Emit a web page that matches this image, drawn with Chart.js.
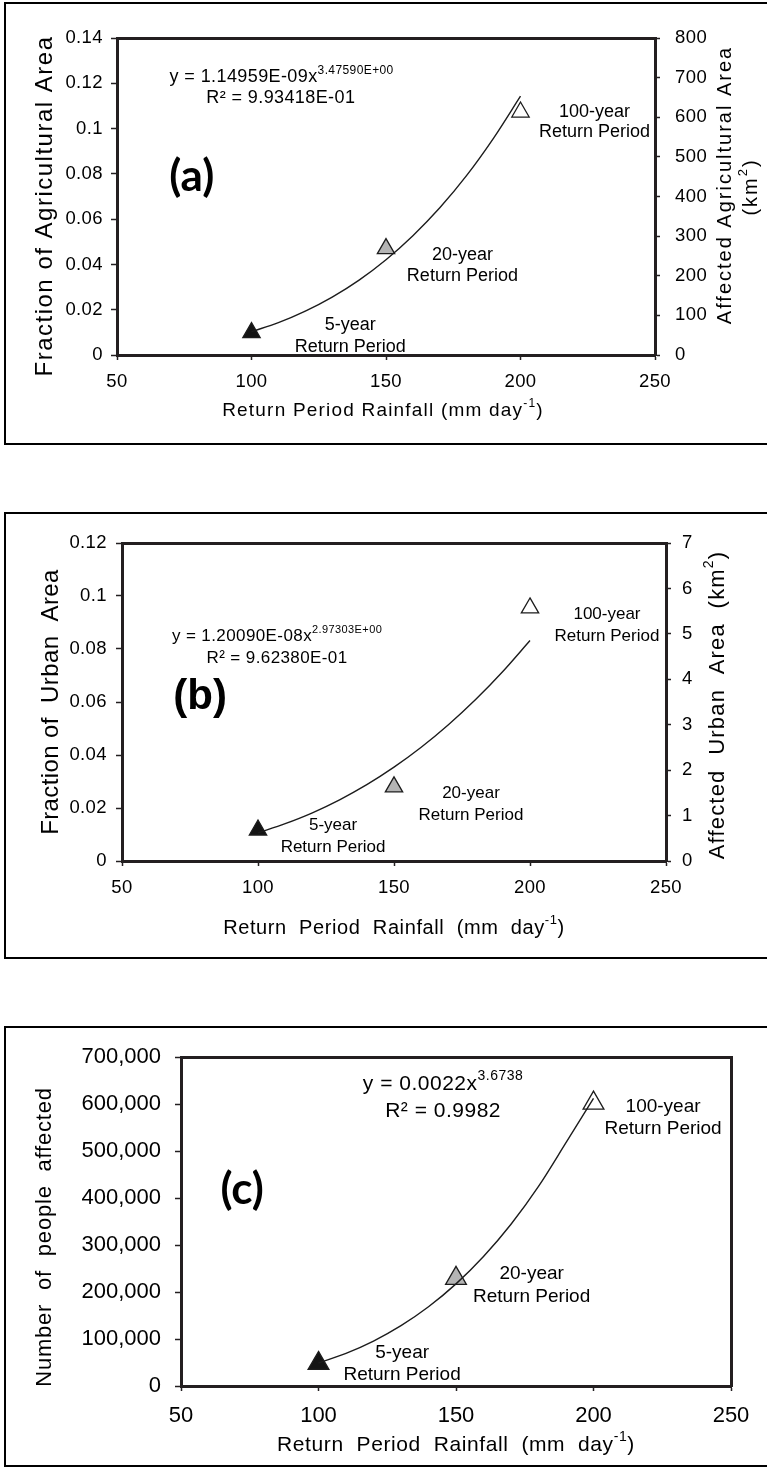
<!DOCTYPE html>
<html>
<head>
<meta charset="utf-8">
<script src="https://cdn.jsdelivr.net/npm/chart.js@4.4.1/dist/chart.umd.min.js"></script>
<style>
    html, body { margin: 0; padding: 0; background: #fff; }
    body { width: 767px; height: 1468px; position: relative; overflow: hidden; }
    .panel-box { position: absolute; left: 4px; width: 820px; border: 2px solid #000; box-sizing: border-box; }
    canvas { position: absolute; left: 0; }
</style>
</head>
<body>
<div class="panel-box" style="top:2px;height:443px"></div>
<div class="panel-box" style="top:512px;height:447px"></div>
<div class="panel-box" style="top:1026px;height:441px"></div>
<canvas id="chartA" width="767" height="446" style="top:0px;width:767px;height:446px"></canvas>
<canvas id="chartB" width="767" height="450" style="top:510px;width:767px;height:450px"></canvas>
<canvas id="chartC" width="767" height="444" style="top:1024px;width:767px;height:444px"></canvas>
<script>
// return period rainfall (mm/day) of the 5, 20 and 100-year events
const rainfall = [100, 150, 200];
const returnPeriods = ["5-year", "20-year", "100-year"];
const agriculturalFraction = [0.0099, 0.047, 0.1073];
const urbanFraction = [0.0117, 0.028, 0.0955];
const peopleAffected = [48000, 229000, 602000];

// fitted power curves as drawn
const trendRainfall = [100, 110, 120, 130, 140, 150, 160, 170, 180, 190, 200];
const agriculturalTrend = [0.0103, 0.0143, 0.0194, 0.0256, 0.0331, 0.0421, 0.0527, 0.065, 0.0793, 0.0958, 0.1143];
const urbanTrend = [0.0106, 0.0141, 0.0182, 0.0231, 0.0288, 0.0354, 0.0429, 0.0514, 0.0609, 0.0715, 0.0832];
const peopleTrend = [49000, 69500, 95700, 128400, 168600, 217300, 275500, 344100, 424700, 517800, 612000];

const rainfallTicks = [50, 100, 150, 200, 250];
const rainfallTickLabels = ["50", "100", "150", "200", "250"];
const agriculturalTicks = [0, 0.02, 0.04, 0.06, 0.08, 0.1, 0.12, 0.14];
const agriculturalTickLabels = ["0", "0.02", "0.04", "0.06", "0.08", "0.1", "0.12", "0.14"];
const agriculturalAreaTicks = [0, 100, 200, 300, 400, 500, 600, 700, 800];
const agriculturalAreaTickLabels = ["0", "100", "200", "300", "400", "500", "600", "700", "800"];
const urbanTicks = [0, 0.02, 0.04, 0.06, 0.08, 0.1, 0.12];
const urbanTickLabels = ["0", "0.02", "0.04", "0.06", "0.08", "0.1", "0.12"];
const urbanAreaTicks = [0, 1, 2, 3, 4, 5, 6, 7];
const urbanAreaTickLabels = ["0", "1", "2", "3", "4", "5", "6", "7"];
const peopleTicks = [0, 100000, 200000, 300000, 400000, 500000, 600000, 700000];
const peopleTickLabels = ["0", "100,000", "200,000", "300,000", "400,000", "500,000", "600,000", "700,000"];

const axisColour = "#231f20";
const markerFills = ["#141414", "#b4b4b4", "#ffffff"];
const sansFont = "'Liberation Sans', Arial, Helvetica, sans-serif";
const letterFont = "Lato, 'Open Sans', sans-serif";

const rainfallTitle = [{ t: "Return Period Rainfall (mm day" }, { t: "-1", sup: true }, { t: ")" }];
const rainfallTitleWide = [{ t: "Return  Period  Rainfall  (mm  day" }, { t: "-1", sup: true }, { t: ")" }];

function periodNotes(positions, size) {
    const notes = [];
    positions.forEach((pos, i) => {
        notes.push({ parts: [{ t: returnPeriods[i] }], x: pos[0], y: pos[1], size });
        notes.push({ parts: [{ t: "Return Period" }], x: pos[0], y: pos[2], size });
    });
    return notes;
}

const panels = [
    {
        canvasId: "chartA",
        values: agriculturalFraction,
        trend: agriculturalTrend,
        markerRadius: 10,
        areaTop: 38,
        xAxis: { size: 91, tick: [5, 11] },
        yAxis: { range: [0, 0.14], ticks: agriculturalTicks, labels: agriculturalTickLabels, size: 117, tick: [6, 8] },
        y2Axis: { range: [0, 800], ticks: agriculturalAreaTicks, labels: agriculturalAreaTickLabels, size: 112, tick: [5, 15] },
        tickSize: 18.5,
        tickSpacing: 0.4,
        titles: [
            { parts: [{ t: "Fraction of Agricultural Area" }], x: 45, y: 206, size: 24, spacing: 1.5, rotate: true },
            { parts: rainfallTitle, x: 383, y: 411, size: 19, spacing: 1.2 },
            { parts: [{ t: "Affected Agricultural Area" }], x: 725, y: 185, size: 20, spacing: 2, rotate: true },
            { parts: [{ t: "(km" }, { t: "2", sup: true }, { t: ")" }], x: 751, y: 187, size: 20, spacing: 2, rotate: true }
        ],
        notes: [
            { parts: [{ t: "y = 1.14959E-09x" }, { t: "3.47590E+00", sup: true }], x: 111.2, y: 0.1226, size: 18, spacing: 0.4 },
            { parts: [{ t: "R\u00b2 = 9.93418E-01" }], x: 110.9, y: 0.1135, size: 18, spacing: 0.4 },
            { parts: [{ t: "(a)" }], x: 77.8, y: 0.0786, size: 44, bold: true, family: letterFont }
        ].concat(periodNotes([[136.7, 0.01325, 0.0035], [178.4, 0.0442, 0.0349], [227.5, 0.1073, 0.0985]], 18))
    },
    {
        canvasId: "chartB",
        values: urbanFraction,
        trend: urbanTrend,
        markerRadius: 10,
        areaTop: 33,
        xAxis: { size: 99, tick: [5, 11] },
        yAxis: { range: [0, 0.12], ticks: urbanTicks, labels: urbanTickLabels, size: 122, tick: [6, 9] },
        y2Axis: { range: [0, 7], ticks: urbanAreaTicks, labels: urbanAreaTickLabels, size: 101, tick: [5, 11] },
        tickSize: 18.5,
        tickSpacing: 0.4,
        titles: [
            { parts: [{ t: "Fraction of  Urban  Area" }], x: 51, y: 192, size: 24, spacing: 0.4, rotate: true },
            { parts: rainfallTitleWide, x: 394, y: 418, size: 20, spacing: 0.6 },
            { parts: [{ t: "Affected  Urban  Area  (km" }, { t: "2", sup: true }, { t: ")" }], x: 718, y: 195, size: 22, spacing: 1.2, rotate: true }
        ],
        notes: [
            { parts: [{ t: "y = 1.20090E-08x" }, { t: "2.97303E+00", sup: true }], x: 107, y: 0.0849, size: 17, spacing: 0.4 },
            { parts: [{ t: "R\u00b2 = 9.62380E-01" }], x: 107, y: 0.0764, size: 17, spacing: 0.4 },
            { parts: [{ t: "(b)" }], x: 78.7, y: 0.0619, size: 42, bold: true, family: sansFont }
        ].concat(periodNotes([[127.6, 0.0136, 0.0053], [178.3, 0.0257, 0.0174], [228.3, 0.0932, 0.0849]], 17))
    },
    {
        canvasId: "chartC",
        values: peopleAffected,
        trend: peopleTrend,
        markerRadius: 12,
        areaTop: 33,
        xAxis: { size: 82, tick: [5, 12] },
        yAxis: { range: [0, 700000], ticks: peopleTicks, labels: peopleTickLabels, size: 181, tick: [6, 14] },
        y2Axis: null,
        frameRight: 36,
        tickSize: 22,
        tickSpacing: 0,
        titles: [
            { parts: [{ t: "Number  of  people  affected" }], x: 45, y: 213, size: 22, spacing: 0.8, rotate: true },
            { parts: rainfallTitleWide, x: 456, y: 421, size: 21, spacing: 0.6 }
        ],
        notes: [
            { parts: [{ t: "y = 0.0022x" }, { t: "3.6738", sup: true }], x: 145.3, y: 642600, size: 21, spacing: 0.5 },
            { parts: [{ t: "R\u00b2 = 0.9982" }], x: 145.3, y: 585100, size: 21, spacing: 0.5 },
            { parts: [{ t: "(c)" }], x: 72.2, y: 417000, size: 44, bold: true, family: letterFont }
        ].concat(periodNotes([[130.4, 70200, 23400], [177.5, 238300, 189400], [225.3, 593600, 546800]], 19))
    }
];

function fontString(size, bold, family) {
    return (bold ? "bold " : "") + size + "px " + (family || sansFont);
}

function drawParts(ctx, note, cx, cy) {
    const supSize = Math.round(note.size * 0.65);
    ctx.letterSpacing = (note.spacing || 0) + "px";
    const widths = note.parts.map((part) => {
        ctx.font = fontString(part.sup ? supSize : note.size, note.bold, note.family);
        return ctx.measureText(part.t).width;
    });
    const total = widths.reduce((sum, w) => sum + w, 0);
    let x = cx - total / 2;

    note.parts.forEach((part, i) => {
        ctx.font = fontString(part.sup ? supSize : note.size, note.bold, note.family);
        ctx.fillText(part.t, x, part.sup ? cy - note.size * 0.38 : cy);
        x += widths[i];
    });
}

const panelTextPlugin = {
    id: "panelText",
    beforeDraw(chart, args, opts) {
        chart.ctx.letterSpacing = opts.tickSpacing + "px";
    },
    afterDraw(chart, args, opts) {
        const ctx = chart.ctx;
        const xScale = chart.scales.x;
        const yScale = chart.scales.y;

        ctx.save();
        ctx.fillStyle = "#000";
        ctx.textAlign = "left";
        ctx.textBaseline = "middle";

        opts.notes.forEach((note) => {
            drawParts(ctx, note, xScale.getPixelForValue(note.x), yScale.getPixelForValue(note.y));
        });

        opts.titles.forEach((title) => {
            if (title.rotate) {
                ctx.save();
                ctx.translate(title.x, title.y);
                ctx.rotate(-Math.PI / 2);
                drawParts(ctx, title, 0, 0);
                ctx.restore();
            } else {
                drawParts(ctx, title, title.x, title.y);
            }
        });

        ctx.restore();
    }
};

function valueAxis(position, axis, tickSize) {
    return {
        type: "linear",
        position,
        min: axis.range[0],
        max: axis.range[1],
        afterBuildTicks: (scale) => {
            scale.ticks = axis.ticks.map((value) => ({ value }));
        },
        afterFit: (scale) => {
            if (scale.isHorizontal()) {
                scale.height = axis.size;
            } else {
                scale.width = axis.size;
            }
        },
        ticks: {
            color: "#000",
            font: { family: sansFont, size: tickSize },
            padding: axis.tick[1],
            maxRotation: 0,
            autoSkip: false,
            callback: (value, index) => axis.labels[index]
        },
        grid: {
            drawOnChartArea: false,
            drawTicks: true,
            tickLength: axis.tick[0],
            tickWidth: 1.5,
            tickColor: axisColour
        },
        border: { display: true, width: 3, color: axisColour }
    };
}

function frameAxis(position, size) {
    return {
        type: "linear",
        position,
        min: 0,
        max: 1,
        afterFit: (scale) => {
            if (scale.isHorizontal()) {
                scale.height = size;
            } else {
                scale.width = size;
            }
        },
        ticks: { display: false },
        grid: { display: false },
        border: { display: true, width: 3, color: axisColour }
    };
}

function createPanel(panel) {
    const xAxis = Object.assign({ range: [50, 250], ticks: rainfallTicks, labels: rainfallTickLabels }, panel.xAxis);
    const scales = {
        x: valueAxis("bottom", xAxis, panel.tickSize),
        y: valueAxis("left", panel.yAxis, panel.tickSize),
        xTop: frameAxis("top", 0)
    };

    if (panel.y2Axis) {
        scales.y2 = valueAxis("right", panel.y2Axis, panel.tickSize);
    } else {
        scales.y2 = frameAxis("right", panel.frameRight);
    }

    return new Chart(document.getElementById(panel.canvasId), {
        type: "scatter",
        data: {
            datasets: [
                {
                    label: "Power fit",
                    data: trendRainfall.map((x, i) => ({ x, y: panel.trend[i] })),
                    showLine: true,
                    borderColor: "#1c1c1c",
                    borderWidth: 1.4,
                    pointRadius: 0,
                    cubicInterpolationMode: "monotone",
                    xAxisID: "x",
                    yAxisID: "y"
                },
                {
                    label: "Return periods",
                    data: rainfall.map((x, i) => ({ x, y: panel.values[i] })),
                    pointStyle: "triangle",
                    pointRadius: panel.markerRadius,
                    pointBackgroundColor: markerFills,
                    pointBorderColor: "#1c1c1c",
                    pointBorderWidth: 1.3,
                    xAxisID: "x",
                    yAxisID: "y"
                }
            ]
        },
        options: {
            responsive: false,
            animation: false,
            events: [],
            layout: { padding: { top: panel.areaTop, left: 0, right: 0, bottom: 0 } },
            plugins: {
                legend: { display: false },
                tooltip: { enabled: false },
                panelText: { notes: panel.notes, titles: panel.titles, tickSpacing: panel.tickSpacing }
            },
            scales
        },
        plugins: [panelTextPlugin]
    });
}

panels.forEach(createPanel);
</script>
</body>
</html>
